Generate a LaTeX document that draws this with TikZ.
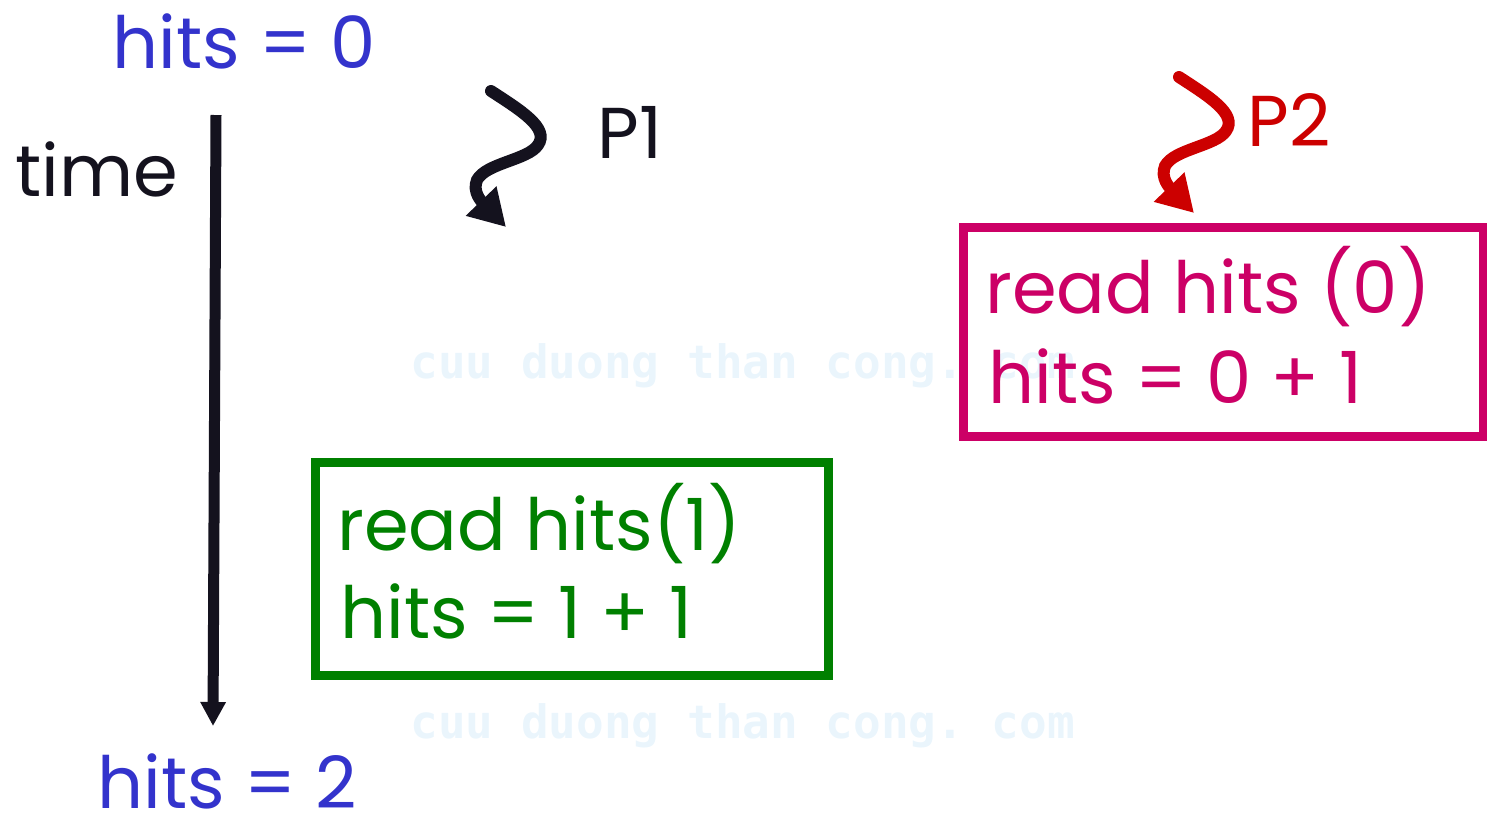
\documentclass[tikz,border=0pt]{standalone}
\usepackage{fontspec}
\setmainfont{Poppins}
\setmonofont{DejaVu Sans Mono}
\usetikzlibrary{arrows.meta}
\definecolor{hitblue}{RGB}{51,51,204}
\definecolor{p2red}{RGB}{204,0,0}
\definecolor{boxmag}{RGB}{204,0,102}
\definecolor{boxgreen}{RGB}{0,128,0}
\definecolor{inkblack}{RGB}{20,18,30}
\definecolor{wmark}{RGB}{234,245,252}
\begin{document}
\begin{tikzpicture}[x=0.5pt,y=-0.5pt,
  lbl/.style={anchor=base west, inner sep=0pt, font=\fontsize{36}{42}\selectfont},
  wm/.style={anchor=base west, inner sep=0pt, text=wmark, font=\ttfamily\bfseries\fontsize{23}{26}\selectfont},
  framebox/.style={draw, line width=4.5pt, rectangle, inner sep=0pt},
  squiggle/.style={line width=6pt, line cap=round, -{Triangle[length=18pt,width=20pt]}},
  timeline/.style={line width=5.5pt, draw=inkblack, -{Triangle[length=12pt,width=12pt]}}]
\useasboundingbox (0,0) rectangle (1487,816);

% faint background stamp
\node[wm] (wmA) at (410,378) {cuu duong than cong. com};
\node[wm] (wmB) at (410,738) {cuu duong than cong. com};

% time axis
\node[lbl, text=hitblue] (h0) at (112,68) {hits = 0};
\node[lbl, text=inkblack] (time) at (15,196) {time};
\node[lbl, text=hitblue] (h2) at (97,808) {hits = 2};
\coordinate (tTop) at (216,115);
\coordinate (tBot) at (213,726);
\draw[timeline] (tTop) -- (tBot);

% process P1
\node[lbl, text=inkblack] (p1) at (597,158) {P1};
\coordinate (s1) at (491,91);
\coordinate (e1) at (506,227);
\draw[squiggle, draw=inkblack] (s1)
  .. controls (520,110) and (550,128) .. (538,145)
  .. controls (528,160) and (486,163) .. (477,180)
  .. controls (472,192) and (482,202) .. (e1);

% process P2
\node[lbl, text=p2red] (p2) at (1247,146) {P2};
\coordinate (s2) at (1179,77);
\coordinate (e2) at (1194,213);
\draw[squiggle, draw=p2red] (s2)
  .. controls (1208,96) and (1238,114) .. (1226,131)
  .. controls (1216,146) and (1174,149) .. (1165,166)
  .. controls (1160,178) and (1170,188) .. (e2);

% P2 step
\node[framebox, draw=boxmag, minimum width=260pt, minimum height=104.5pt] (boxP2) at (1223,331.5) {};
\node[lbl, text=boxmag] (rb1) at (985,313) {read hits (0)};
\node[lbl, text=boxmag] (rb2) at (988,403) {hits = 0 + 1};

% P1 step
\node[framebox, draw=boxgreen, minimum width=256.5pt, minimum height=106.5pt] (boxP1) at (571.5,568.5) {};
\node[lbl, text=boxgreen] (rg1) at (337,550) {read hits(1)};
\node[lbl, text=boxgreen] (rg2) at (340,638) {hits = 1 + 1};
\end{tikzpicture}
\end{document}
